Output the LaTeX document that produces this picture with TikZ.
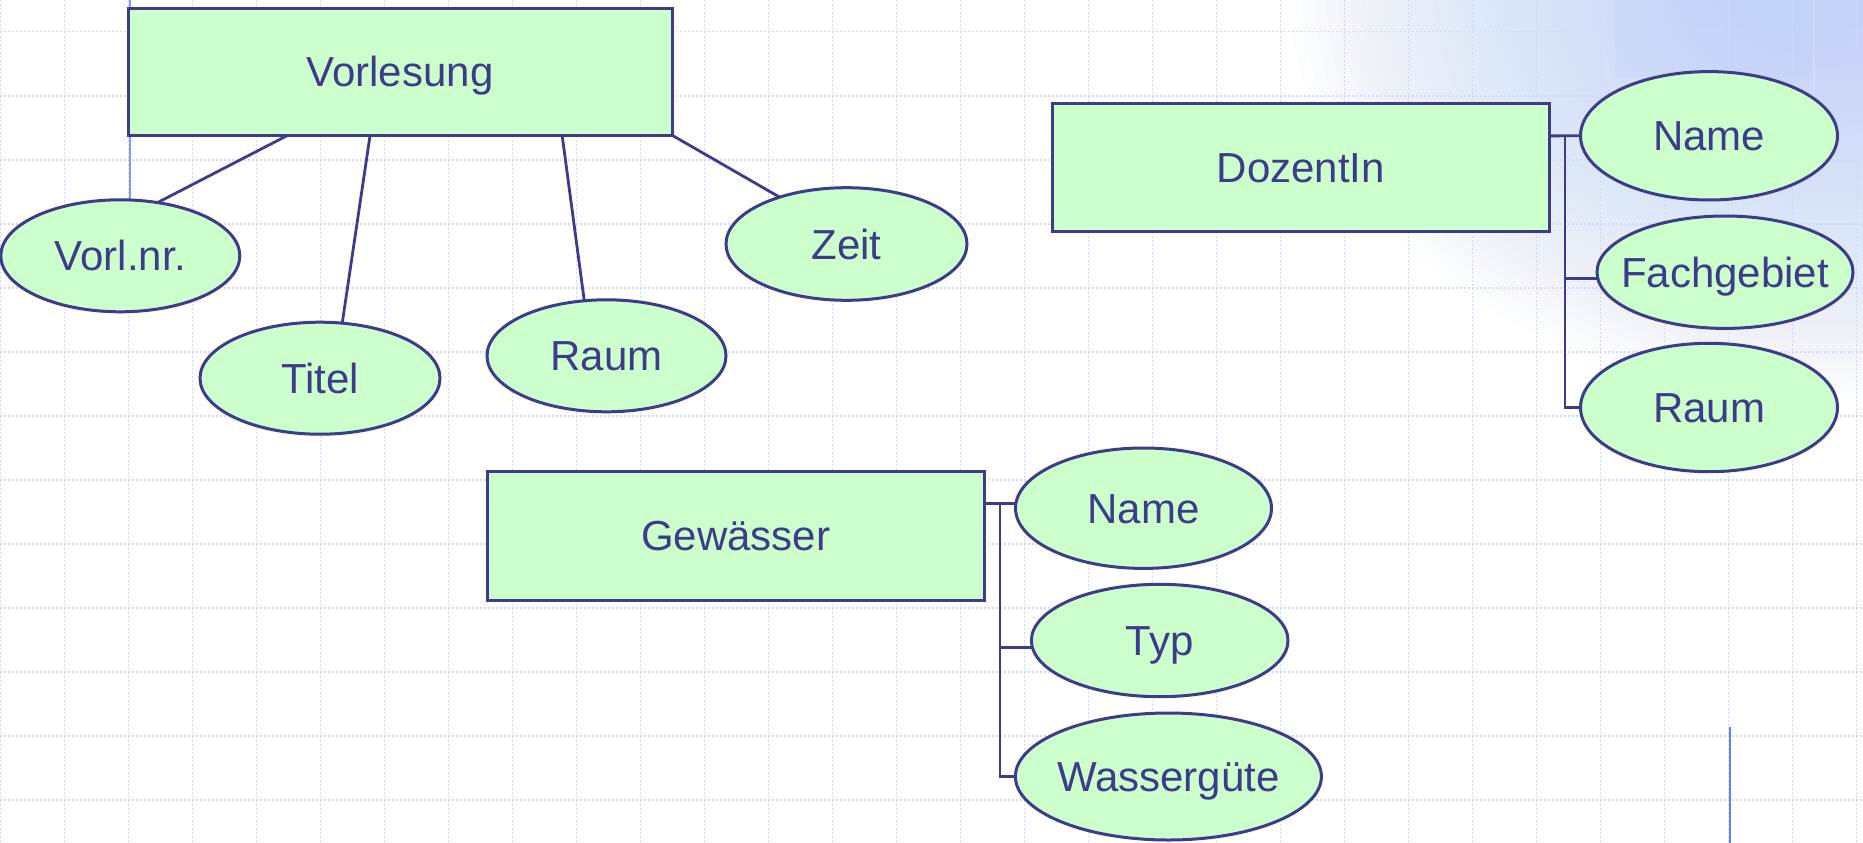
\documentclass[tikz,border=0pt]{standalone}
\usepackage{fontspec}
\setmainfont{Liberation Sans}
\usetikzlibrary{shapes.geometric,calc}

\definecolor{ink}{RGB}{60,60,138}
\definecolor{erfill}{RGB}{204,255,204}
\definecolor{gridc}{RGB}{204,216,252}
\definecolor{glowc}{RGB}{190,210,248}
\definecolor{accent}{RGB}{100,128,240}

% centred text of zero width, so the ellipse keeps its given size
\newcommand\ctrtxt[1]{\hbox to 0pt{\hss#1\hss}}

\pgfdeclarelayer{bg}
\pgfdeclarelayer{wires}
\pgfsetlayers{bg,wires,main}

\begin{document}
\begin{tikzpicture}[x=1pt,y=-1pt,
  font=\fontsize{42}{50}\selectfont,
  gridline/.style={gridc, line width=1.6pt, dash pattern=on 2pt off 2pt},
  entity/.style={rectangle, draw=ink, fill=erfill, line width=3pt,
    inner sep=0pt, outer sep=0pt, text=ink, text height=30pt, text depth=0pt},
  attr/.style={ellipse, draw=ink, fill=erfill, line width=3pt,
    inner sep=0pt, outer sep=0pt, text=ink, text height=30pt, text depth=0pt},
  conn/.style={ink, line width=2.8pt}]

\useasboundingbox (0,0) rectangle (1863,843);

\begin{pgfonlayer}{bg}
  \fill[white] (0,0) rectangle (1863,843);
  % soft blue glow in the upper right corner, built from stacked translucent ellipses
  \begin{scope}
    \clip (0,0) rectangle (1863,843);
    \foreach \k in {1,...,40}
      \fill[glowc, opacity=0.03] (1830,-10) ellipse [x radius={12*\k+60}, y radius={9.5*\k+30}];
    \fill[glowc, opacity=0.25] (1615,0) rectangle (1813,77);
    \draw[accent!25, line width=1pt] (1813,0) -- (1813,300);
  \end{scope}
  % dotted background grid
  \foreach \i in {0,...,29}
    \draw[gridline] (0.5+64*\i,0) -- (0.5+64*\i,843);
  \foreach \j in {0,...,12}
    \draw[gridline] (0,31.7+64*\j) -- (1863,31.7+64*\j);
  % thin blue guide lines
  \draw[accent!80, line width=2pt] (130,0) -- (130,200);
  \draw[accent, line width=2.5pt] (1730,727) -- (1730,843);
\end{pgfonlayer}

% entity Vorlesung
\node[entity, minimum width=544pt, minimum height=127pt] (vl) at (400,71.7) {Vorlesung};
\node[attr, minimum width=239pt, minimum height=112pt] (vnr) at (120.3,255.8) {\ctrtxt{Vorl.nr.}};
\node[attr, minimum width=240pt, minimum height=112pt] (tit) at (320,378.2) {\ctrtxt{Titel}};
\node[attr, minimum width=239pt, minimum height=112pt] (vra) at (606.5,355.8) {\ctrtxt{Raum}};
\node[attr, minimum width=241pt, minimum height=112.6pt] (zeit) at (846.5,244) {\ctrtxt{Zeit}};

% entity DozentIn
\node[entity, minimum width=496.5pt, minimum height=127.7pt] (dz) at (1300.8,167.8) {DozentIn};
\node[attr, minimum width=257pt, minimum height=128.4pt] (dn) at (1709,135.8) {\ctrtxt{Name}};
\node[attr, minimum width=256pt, minimum height=112.4pt] (fg) at (1725,272.2) {\ctrtxt{Fachgebiet}};
\node[attr, minimum width=257pt, minimum height=128.4pt] (dr) at (1709,407.5) {\ctrtxt{Raum}};

% entity Gewässer
\node[entity, minimum width=496.5pt, minimum height=128.2pt] (gw) at (735.8,535.9) {Gewässer};
\node[attr, minimum width=256pt, minimum height=120.4pt] (gn) at (1143.5,508.2) {\ctrtxt{Name}};
\node[attr, minimum width=256.6pt, minimum height=112.4pt] (typ) at (1159.7,640.5) {\ctrtxt{Typ}};
\node[attr, minimum width=306pt, minimum height=127pt] (wg) at (1168.4,776.5) {\ctrtxt{Wassergüte}};

\begin{pgfonlayer}{wires}
  % Vorlesung: straight spokes
  \draw[conn] ($(vl.south west)!0.294!(vl.south east)$) -- (vnr.55);
  \draw[conn] ($(vl.south west)!0.445!(vl.south east)$) -- (tit.68);
  \draw[conn] ($(vl.south west)!0.798!(vl.south east)$) -- (vra.112);
  \draw[conn] (vl.south east) -- (zeit.145);

  % DozentIn: bracket tree
  \coordinate (dzp) at ($(dz.north east)!0.25!(dz.south east)$);
  \coordinate (dzt) at ($(dzp)+(16,0)$);
  \draw[conn] (dzp) -- (dn.west);
  \draw[conn] (dzt) |- (dr.west);
  \draw[conn] (dzt |- fg.183) -- (fg.183);

  % Gewässer: bracket tree
  \coordinate (gwp) at ($(gw.north east)!0.245!(gw.south east)$);
  \coordinate (gwt) at ($(gwp)+(16,0)$);
  \draw[conn] (gwp) -- (gwp -| gn.west);
  \draw[conn] (gwt) |- (wg.west);
  \draw[conn] (gwt |- typ.183) -- (typ.183);
\end{pgfonlayer}
\end{tikzpicture}
\end{document}
